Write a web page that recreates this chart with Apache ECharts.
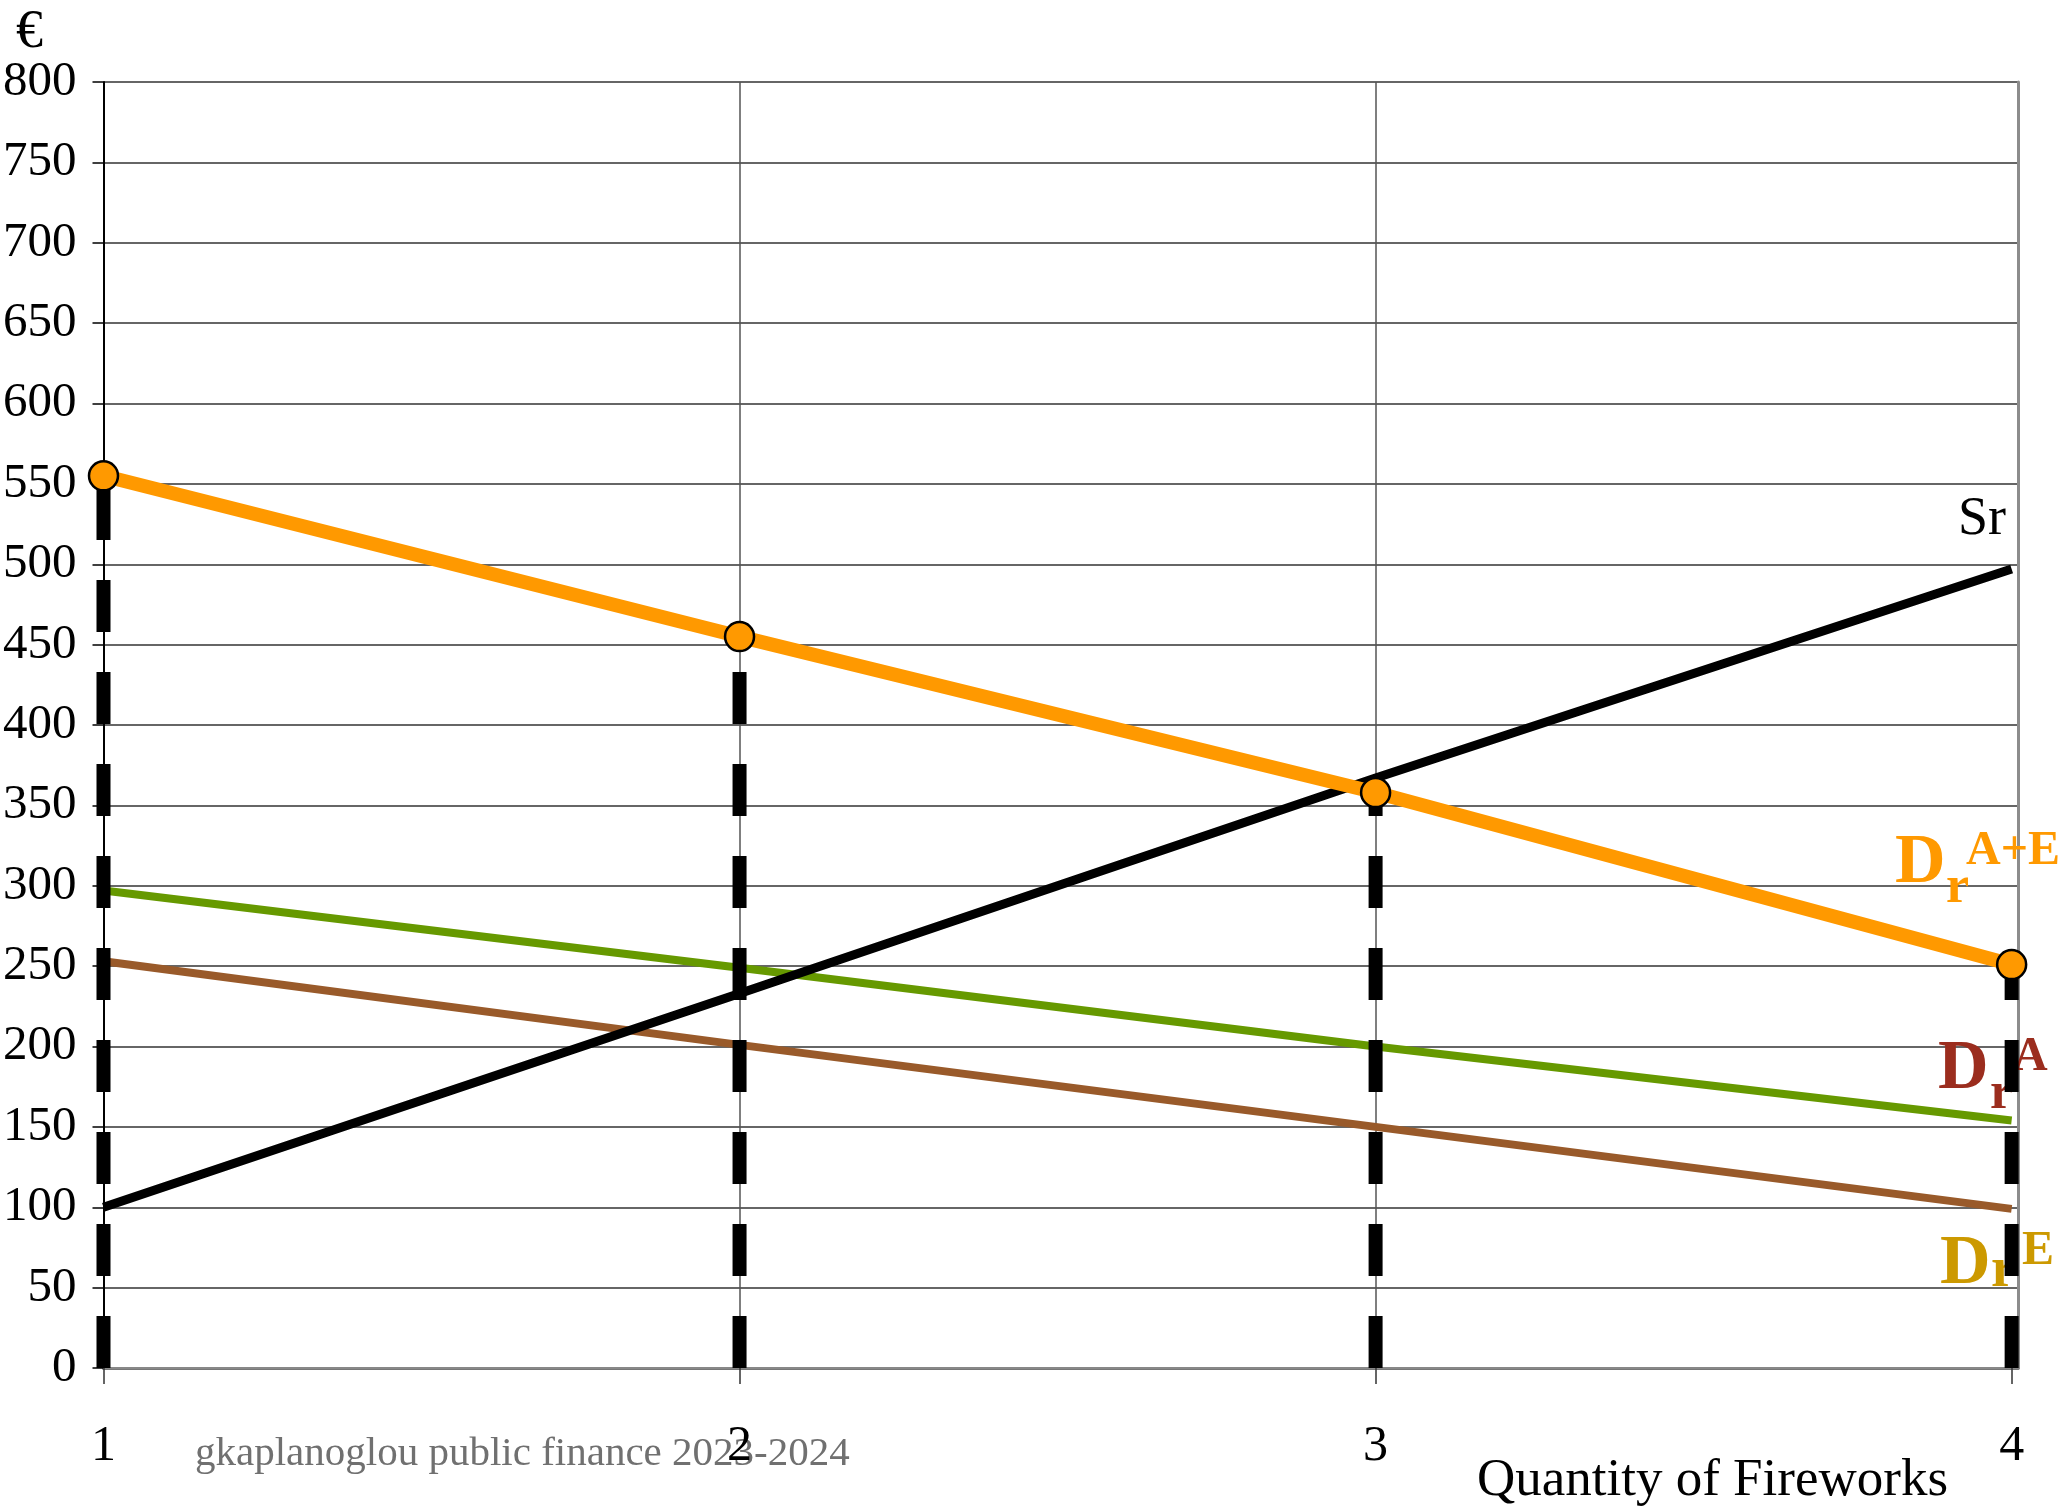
<!DOCTYPE html>
<html>
<head>
<meta charset="utf-8">
<script src="https://cdn.jsdelivr.net/npm/echarts@6/dist/echarts.min.js"></script>
<style>
html,body{margin:0;padding:0;background:#fff;}
#chart{width:2064px;height:1510px;}
</style>
</head>
<body>
<div id="chart"></div>
<script>
// ---- data ----
const quantities = [1, 2, 3, 4];
const demandAE = [555, 455, 358, 251];   // orange, D_r^{A+E}
const demandGreen = [297, 249, 200, 154]; // green line
const demandBrown = [253, 201, 150, 99];  // brown line
const supply = [100, 233, 367, 497];      // Sr
const yTicks = [0, 50, 100, 150, 200, 250, 300, 350, 400, 450, 500, 550, 600, 650, 700, 750, 800];

const serif = "'Liberation Serif', 'Times New Roman', serif";

function pairs(vals) { return quantities.map((q, i) => [q, vals[i]]); }

const dashSeries = quantities.map((q, i) => ({
  type: 'line',
  name: 'guide' + q,
  data: [[q, 0], [q, demandAE[i]]],
  symbol: 'none',
  silent: true,
  z: 4,
  lineStyle: { color: '#000', width: 14, type: [52, 40], cap: 'butt' }
}));

const chart = echarts.init(document.getElementById('chart'));
chart.setOption({
  animation: false,
  backgroundColor: '#fff',
  grid: { left: 100, right: 46, top: 82, bottom: 142, containLabel: false },
  xAxis: [{
    type: 'value', min: 1, max: 4.01, interval: 1,
    axisLine: { show: true, lineStyle: { color: '#777', width: 3 } },
    axisTick: { show: true, length: 16, customValues: quantities, lineStyle: { color: '#333', width: 1.5 } },
    axisLabel: {
      margin: 54, fontFamily: serif, fontSize: 50, color: '#000',
      customValues: quantities,
      formatter: v => (Number.isInteger(v) ? String(v) : '')
    },
    splitLine: { show: true, showMaxLine: false, lineStyle: { color: '#555', width: 1.5 } }
  }, {
    type: 'value', min: 1, max: 4.01, position: 'top',
    axisLine: { show: true, lineStyle: { color: '#888', width: 2 } },
    axisTick: { show: false }, axisLabel: { show: false }, splitLine: { show: false }
  }],
  yAxis: [{
    type: 'value', min: 0, max: 800, interval: 50,
    axisLine: { show: true, lineStyle: { color: '#000', width: 2 } },
    axisTick: { show: true, length: 11, lineStyle: { color: '#000', width: 1.5 } },
    axisLabel: {
      margin: 27, fontFamily: serif, fontSize: 49, color: '#000',
      formatter: v => (yTicks.includes(v) ? String(v) : '')
    },
    splitLine: { show: true, lineStyle: { color: '#333', width: 1.5 } }
  }, {
    type: 'value', min: 0, max: 800, position: 'right',
    axisLine: { show: true, lineStyle: { color: '#8c8c8c', width: 3 } },
    axisTick: { show: false }, axisLabel: { show: false }, splitLine: { show: false }
  }],
  series: [
    {
      type: 'line', name: 'Dr A (green)', data: pairs(demandGreen), symbol: 'none', z: 2,
      lineStyle: { color: '#669900', width: 8, cap: 'butt' }
    },
    {
      type: 'line', name: 'Dr E (brown)', data: pairs(demandBrown), symbol: 'none', z: 2,
      lineStyle: { color: '#995a2a', width: 8, cap: 'butt' }
    },
    {
      type: 'line', name: 'Sr', data: pairs(supply), symbol: 'none', z: 3,
      lineStyle: { color: '#000', width: 9, cap: 'butt' }
    },
    ...dashSeries,
    {
      type: 'line', name: 'Dr A+E', data: pairs(demandAE), z: 5,
      symbol: 'circle', symbolSize: 29,
      itemStyle: { color: '#ff9900', borderColor: '#000', borderWidth: 2.5 },
      lineStyle: { color: '#ff9900', width: 14 }
    }
  ],
  graphic: [
    { type: 'text', z: 1, left: 16, top: 6, style: { text: '€', font: '54px ' + serif, fill: '#000' } },
    { type: 'text', z: 1, x: 1958, y: 520, style: { text: 'Sr', font: '54px ' + serif, fill: '#000', verticalAlign: 'middle' } },
    // D_r^{A+E}
    { type: 'text', z: 1, x: 1895, y: 864, style: { text: 'D', font: 'bold 70px ' + serif, fill: '#ff9900', verticalAlign: 'middle' } },
    { type: 'text', z: 1, x: 1946, y: 889, style: { text: 'r', font: 'bold 52px ' + serif, fill: '#ff9900', verticalAlign: 'middle' } },
    { type: 'text', z: 1, x: 1966, y: 852, style: { text: 'A+E', font: 'bold 48px ' + serif, fill: '#ff9900', verticalAlign: 'middle' } },
    // D_r^A
    { type: 'text', z: 1, x: 1938, y: 1070, style: { text: 'D', font: 'bold 70px ' + serif, fill: '#9b2d1e', verticalAlign: 'middle' } },
    { type: 'text', z: 1, x: 1990, y: 1095, style: { text: 'r', font: 'bold 52px ' + serif, fill: '#9b2d1e', verticalAlign: 'middle' } },
    { type: 'text', z: 1, x: 2013, y: 1058, style: { text: 'A', font: 'bold 48px ' + serif, fill: '#9b2d1e', verticalAlign: 'middle' } },
    // D_r^E
    { type: 'text', z: 1, x: 1940, y: 1265, style: { text: 'D', font: 'bold 70px ' + serif, fill: '#cc9900', verticalAlign: 'middle' } },
    { type: 'text', z: 1, x: 1991, y: 1272, style: { text: 'r', font: 'bold 56px ' + serif, fill: '#cc9900', verticalAlign: 'middle' } },
    { type: 'text', z: 1, x: 2022, y: 1252, style: { text: 'E', font: 'bold 48px ' + serif, fill: '#cc9900', verticalAlign: 'middle' } },
    // axis title and footer
    { type: 'text', z: 1, x: 1477, y: 1481, style: { text: 'Quantity of Fireworks', font: '53px ' + serif, fill: '#000', verticalAlign: 'middle' } },
    { type: 'text', z: 0, x: 195, y: 1454, style: { text: 'gkaplanoglou public finance 2023-2024', font: '41px ' + serif, fill: '#707070', verticalAlign: 'middle' } }
  ]
});
</script>
</body>
</html>
